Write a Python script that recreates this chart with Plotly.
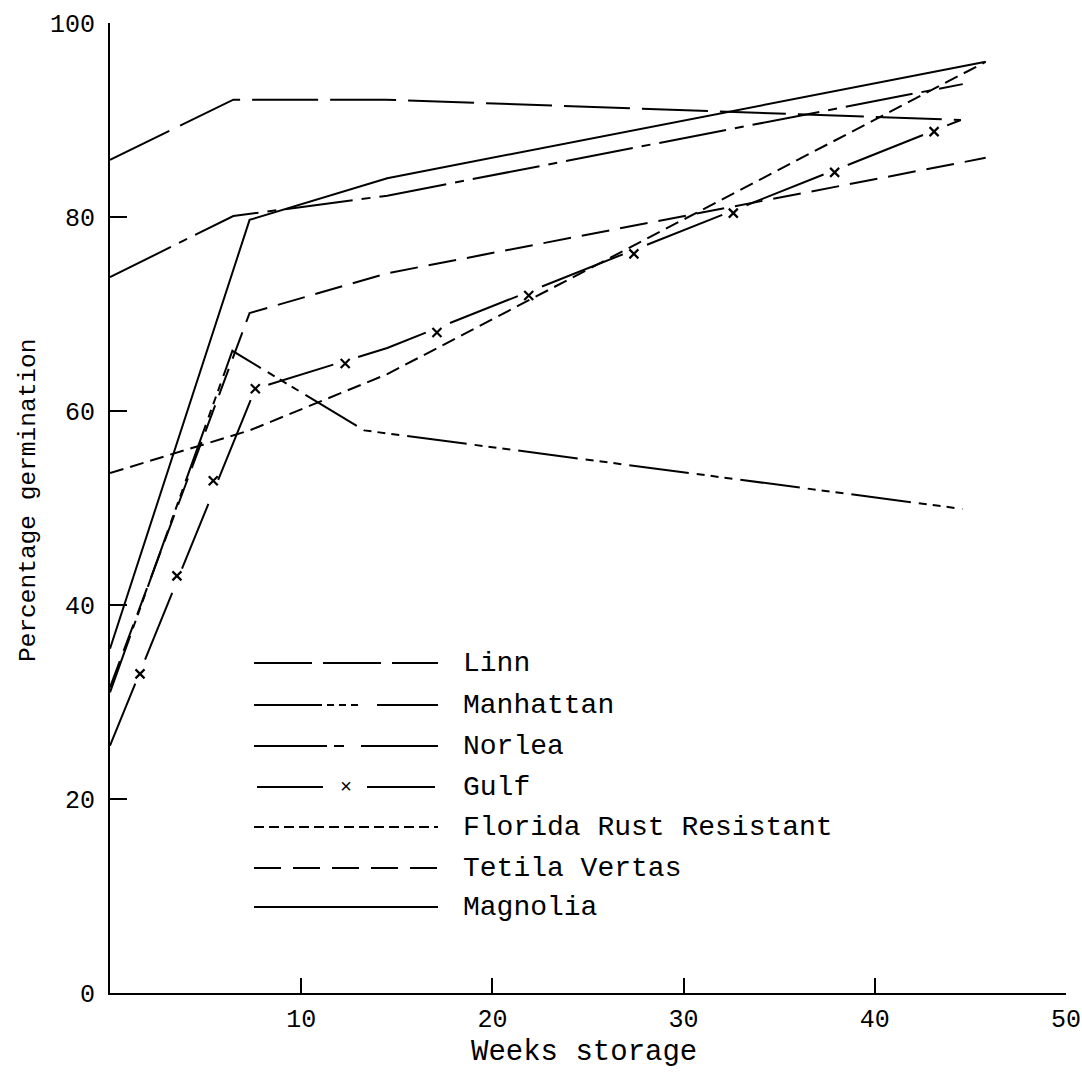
import plotly.graph_objects as go

# ---------------- data ----------------
linn_weeks = [0, 6.45, 14.4, 44.5]
linn_pct = [85.9, 92.1, 92.1, 90.0]

manhattan_weeks = [0, 6.4, 13.3, 44.6]
manhattan_pct = [31.0, 66.2, 58.0, 49.9]

norlea_weeks = [0, 6.45, 14.5, 44.6]
norlea_pct = [73.8, 80.1, 82.2, 93.7]

gulf_weeks = [0, 7.6, 14.5, 44.5]
gulf_pct = [25.5, 62.3, 66.5, 90.0]
gulf_mark_weeks = [1.57, 3.5, 5.4, 7.6, 12.3, 17.1, 21.9, 27.4, 32.6, 37.9, 43.1]
gulf_mark_pct = [32.9, 43.0, 52.8, 62.3, 64.9, 68.1, 71.9, 76.2, 80.4, 84.6, 88.8]

florida_weeks = [0, 7.3, 14.5, 45.8]
florida_pct = [53.6, 58.0, 63.8, 96.0]

tetila_weeks = [0, 7.3, 14.5, 45.8]
tetila_pct = [31.5, 70.1, 74.2, 86.1]

magnolia_weeks = [0, 7.3, 14.5, 45.8]
magnolia_pct = [35.5, 79.7, 84.0, 96.0]

x_ticks = [10, 20, 30, 40, 50]
y_ticks = [0, 20, 40, 60, 80, 100]

legend_names = ["Linn", "Manhattan", "Norlea", "Gulf",
                "Florida Rust Resistant", "Tetila Vertas", "Magnolia"]

# ---------------- styles ----------------
FONT = "Liberation Mono"
W, H = 1082, 1075
L, R, T, B = 110, 16, 23, 82
PW, PH = W - L - R, H - T - B

def px(x):
    return (x - L) / PW

def py(y):
    return (H - B - y) / PH

dash = {
    "Linn": "66px,12px",
    "Manhattan": "60px,8px,8px,6px,8px,6px,8px,8px",
    "Norlea": "68px,9px,9px,9px",
    "Gulf": "67px,26px,72px,26px,70px,26px,86px,26px,68px,26px,72px,26px,73px,26px,87px,26px,81px,26px,83px,26px,81px,26px,60px,26px",
    "Florida Rust Resistant": "14px,7px",
    "Tetila Vertas": "28px,11px",
    "Magnolia": "solid",
}

fig = go.Figure()

series = [
    ("Linn", linn_weeks, linn_pct),
    ("Manhattan", manhattan_weeks, manhattan_pct),
    ("Norlea", norlea_weeks, norlea_pct),
    ("Gulf", gulf_weeks, gulf_pct),
    ("Florida Rust Resistant", florida_weeks, florida_pct),
    ("Tetila Vertas", tetila_weeks, tetila_pct),
    ("Magnolia", magnolia_weeks, magnolia_pct),
]
for name, xs, ys in series:
    fig.add_trace(go.Scatter(x=xs, y=ys, mode="lines", name=name,
                             line=dict(color="black", width=2, dash=dash[name]),
                             showlegend=False, hoverinfo="skip"))

fig.add_trace(go.Scatter(x=gulf_mark_weeks, y=gulf_mark_pct, mode="markers",
                         marker=dict(symbol="x-thin", size=9, color="black",
                                     line=dict(color="black", width=2.2)),
                         showlegend=False, hoverinfo="skip"))

# ---------------- hand-drawn legend ----------------
legend_rows = [663, 705, 746, 787, 827, 868, 907]
legend_dash = {
    "Linn": "58px,11px",
    "Manhattan": "68px,5px,7px,5px,7px,5px,7px,19px",
    "Norlea": "73px,7px,10px,17px,80px",
    "Florida Rust Resistant": "10px,5px",
    "Tetila Vertas": "27px,12px",
    "Magnolia": "solid",
}
shapes = []
annotations = []
for name, row in zip(legend_names, legend_rows):
    if name == "Gulf":
        for a, b in [(257, 323), (367, 435)]:
            shapes.append(dict(type="line", xref="paper", yref="paper",
                               x0=px(a), x1=px(b), y0=py(row), y1=py(row),
                               line=dict(color="black", width=2)))
        annotations.append(dict(xref="paper", yref="paper", x=px(346), y=py(row),
                                text="×", showarrow=False,
                                font=dict(family=FONT, size=20, color="black"),
                                xanchor="center", yanchor="middle"))
    else:
        shapes.append(dict(type="line", xref="paper", yref="paper",
                           x0=px(254), x1=px(438), y0=py(row), y1=py(row),
                           line=dict(color="black", width=2, dash=legend_dash[name])))
    annotations.append(dict(xref="paper", yref="paper", x=px(461), y=py(row),
                            text=name, showarrow=False,
                            font=dict(family=FONT, size=28, color="black"),
                            xanchor="left", yanchor="middle"))

# axis titles
annotations.append(dict(xref="paper", yref="paper", x=px(584), y=py(1052),
                        text="Weeks storage", showarrow=False,
                        font=dict(family=FONT, size=29, color="black"),
                        xanchor="center", yanchor="middle"))
annotations.append(dict(xref="paper", yref="paper", x=px(28), y=py(501),
                        text="Percentage germination", showarrow=False, textangle=-90,
                        font=dict(family=FONT, size=24.5, color="black"),
                        xanchor="center", yanchor="middle"))

fig.update_layout(
    width=W, height=H,
    margin=dict(l=L, r=R, t=T, b=B, pad=0, autoexpand=False),
    paper_bgcolor="white", plot_bgcolor="white",
    showlegend=False,
    shapes=shapes, annotations=annotations,
    font=dict(family=FONT, size=25, color="black"),
)
fig.update_xaxes(range=[0, 50], tickvals=x_ticks, ticks="inside", ticklen=15,
                 tickwidth=2, tickcolor="black", showline=True, linewidth=2,
                 linecolor="black", showgrid=False, zeroline=False, automargin=False,
                 ticklabelstandoff=2,
                 tickfont=dict(family=FONT, size=25, color="black"))
fig.update_yaxes(range=[0, 100], tickvals=y_ticks, ticks="inside", ticklen=17,
                 tickwidth=2, tickcolor="black", showline=True, linewidth=2,
                 linecolor="black", showgrid=False, zeroline=False, automargin=False,
                 ticklabelstandoff=8,
                 tickfont=dict(family=FONT, size=25, color="black"))

fig.write_html("out.html")
